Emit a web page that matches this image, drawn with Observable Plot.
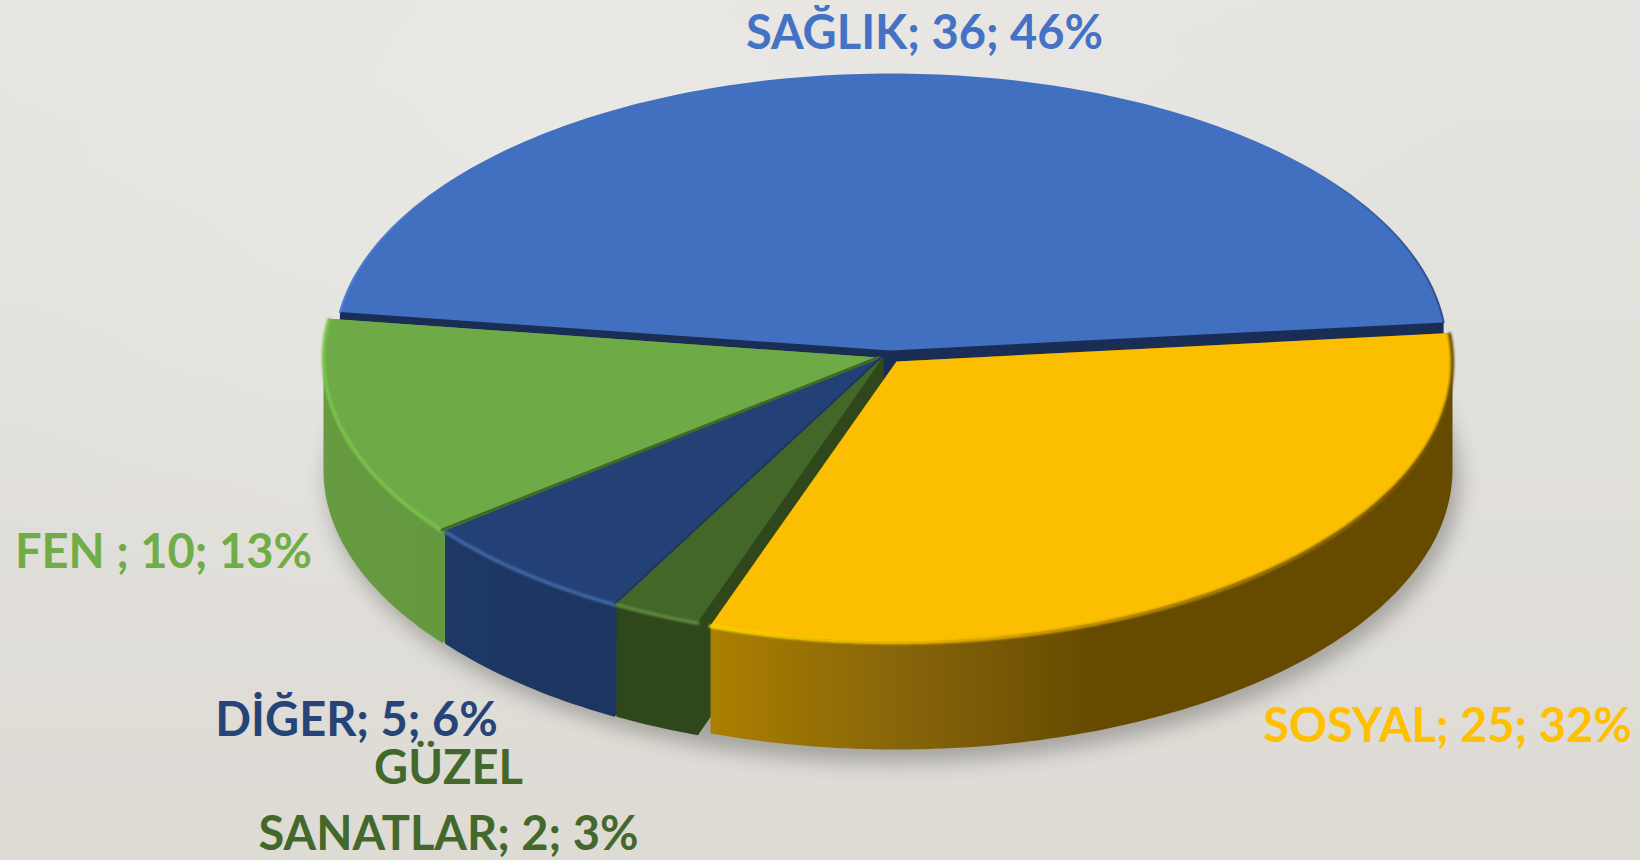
<!DOCTYPE html>
<html lang="tr">
<head>
<meta charset="utf-8">
<title>Pie</title>
<script src="https://cdn.jsdelivr.net/npm/d3@7"></script>
<script src="https://cdn.jsdelivr.net/npm/@observablehq/plot@0.6"></script>
<style>
html,body{margin:0;padding:0;width:1640px;height:860px;overflow:hidden;
background:radial-gradient(ellipse 900px 560px at 35% 10%,#e9e8e5 0%,rgba(233,232,229,0) 100%),linear-gradient(180deg,#e5e4e0 0%,#dedbd5 100%);}
svg{display:block;background:transparent!important}
</style>
</head>
<body>
<div id="chart"></div>
<script>
// data
const categories = ["SAĞLIK", "SOSYAL", "GÜZEL\nSANATLAR", "DİĞER", "FEN "];
const values = [36, 25, 2, 5, 10];
const startAngle = -82;

// label placement and colours
const labelX = [924, 1447, 448, 356, 163];
const labelY = [48, 741, 849, 735, 567];
const labelColors = ["#4472c4", "#ffc000", "#43682b", "#264478", "#70ad47"];

// 3D pie layout
const apexX = [890, 896, 883, 881, 878];
const apexY = [350, 361, 356, 356, 357];
const radiusX = [556, 556, 555, 555, 555];
const radiusY = [276, 280, 282, 282, 279];
const depths = [110, 108, 113, 113, 113];
const faceColors = ["#4270c0", "#fbbe00", "#436629", "#244177", "#6eaa46"];
const sideColors = ["#1a2d54", "url(#sideSosyal)", "#2f471b", "url(#sideDiger)", "url(#sideFen)"];
const rimColors = ["url(#rimSaglik)", "url(#rimSosyal)", "#5f8c42", "#4169a8", "#7cc54c"];
const drawOrder = [0, 4, 3, 2, 1];

const total = d3.sum(values);
const ends = d3.cumsum(values).map((v) => startAngle + (v / total) * 360);
const starts = ends.map((e, i) => e - (values[i] / total) * 360);

function rimPoint(i, deg) {
  const t = (deg * Math.PI) / 180;
  return [apexX[i] + radiusX[i] * Math.sin(t), apexY[i] - radiusY[i] * Math.cos(t)];
}
function arc(i) {
  return d3.range(starts[i], ends[i], 1).concat(ends[i]).map((a) => rimPoint(i, a));
}
function face(i) {
  return [[apexX[i], apexY[i]], ...arc(i), [apexX[i], apexY[i]]];
}
function hull(i) {
  const f = face(i);
  const h = d3.polygonHull([...f, ...f.map(([x, y]) => [x, y + depths[i]])]);
  return [...h, h[0]];
}
// outer outline of the entire pie, for the cast shadow
function shadowRing() {
  return d3.range(0, 361, 3).map((a) => {
    const t = (a * Math.PI) / 180;
    return [893 + 566 * Math.sin(t), 480 - 282 * Math.cos(t)];
  });
}
const polyOpts = (fill, extra = {}) => ({x: (d) => d[0], y: (d) => d[1], fill, stroke: "none", ...extra});

const gradient = (id, stops, attrs = {}) => () => {
  const g = d3.create("svg:linearGradient").attr("id", id);
  for (const k in attrs) g.attr(k, attrs[k]);
  stops.forEach(([o, c]) => g.append("stop").attr("offset", o).attr("stop-color", c));
  const defs = d3.create("svg:defs");
  defs.append(() => g.node());
  return defs.node();
};

const sliceMarks = drawOrder.flatMap((i) => [
  Plot.line(hull(i), polyOpts(sideColors[i])),
  Plot.line(face(i), polyOpts(faceColors[i]))
]);
const rimMarks = [4, 3, 2, 1].map((i) =>
  Plot.line(arc(i).map(([x, y]) => [x, y + 1]), {
    x: (d) => d[0], y: (d) => d[1], stroke: rimColors[i], strokeWidth: i === 1 ? 3.5 : 3.5,
    imageFilter: "blur(0.9px)"
  })
);
const blueRim = Plot.line(arc(0), {x: (d) => d[0], y: (d) => d[1], stroke: rimColors[0], strokeWidth: 2, imageFilter: "blur(0.6px)"});
const edgeFen = Plot.line([[apexX[4], apexY[4]], rimPoint(4, starts[4])], {x: (d) => d[0], y: (d) => d[1], stroke: "#3f6a28", strokeWidth: 3});
const edgeDiger = Plot.line([[apexX[3], apexY[3]], rimPoint(3, starts[3])], {x: (d) => d[0], y: (d) => d[1], stroke: "#1f3864", strokeWidth: 1.5});

const labels = categories.map((c, i) => ({
  text: `${c}; ${values[i]}; ${Math.round((values[i] / total) * 100)}%`,
  x: labelX[i], y: labelY[i], color: labelColors[i]
}));

const chart = Plot.plot({
  width: 1640,
  height: 860,
  margin: 0,
  style: {background: "transparent", fontFamily: "Lato"},
  x: {domain: [0, 1640], range: [0, 1640], axis: null},
  y: {domain: [0, 860], range: [0, 860], axis: null},
  marks: [
    gradient("sideSosyal", [[0, "#ab7f00"], [0.5, "#86640a"], [1, "#654a00"]],
      {gradientUnits: "userSpaceOnUse", x1: 709, x2: 1100, y1: 0, y2: 0}),
    gradient("sideFen", [[0, "#669b41"], [1, "#5e8f39"]]),
    gradient("sideDiger", [[0, "#1e3865"], [1, "#1a3059"]]),
    gradient("rimSosyal", [[0, "#ffd800"], [0.3, "#f5bb00"], [0.55, "#c59400"], [1, "#6e5000"]]),
    gradient("rimSaglik", [[0, "#4f80d6"], [0.1, "#4270c0"], [0.88, "#4270c0"], [1, "#2d4f8e"]]),
    Plot.line(shadowRing(), polyOpts("#000000", {fillOpacity: 0.26, imageFilter: "blur(10px)"})),
    ...sliceMarks,
    blueRim,
    ...rimMarks,
    edgeFen,
    edgeDiger,
    Plot.text(labels, {
      x: "x", y: "y", text: "text", fill: (d) => d.color,
      fontSize: 47, fontWeight: 700, textAnchor: "middle", lineAnchor: "bottom", lineHeight: 1.39
    })
  ]
});
chart.style.background = "transparent";
document.getElementById("chart").append(chart);
</script>
</body>
</html>
